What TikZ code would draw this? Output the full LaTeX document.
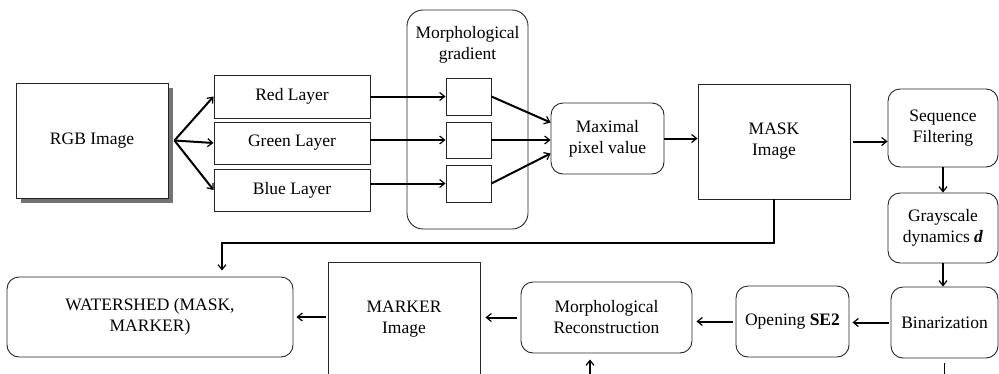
\documentclass[tikz,border=0pt]{standalone}
\usepackage{fontspec}
\setmainfont{Liberation Serif}
\newfontfamily\tnr{Liberation Serif}
\usetikzlibrary{arrows.meta,calc}
\begin{document}
\begin{tikzpicture}[x=1pt,y=-1pt,
  every node/.style={font=\fontsize{17.5}{21}\selectfont, execute at begin node={\tnr\fontsize{17.5}{21}\selectfont}},
  box/.style={draw=black!85, line width=0.9pt, align=center, inner sep=2pt},
  rbox/.style={box, rounded corners=12pt},
  arr/.style={line width=2pt, -{Straight Barb[length=5pt,width=8pt,line width=1.2pt]}},
  thinarr/.style={line width=1.1pt, -{Straight Barb[length=5pt,width=8pt,line width=1.2pt]}},
  thinline/.style={line width=1.1pt}]
\useasboundingbox (0,0) rectangle (999,373);

% shadow of the RGB box
\fill[black!55] (21,88) rectangle (173,203);
% top row
\node[box, fill=white, minimum width=152pt, minimum height=115pt] (rgb) at (92,140.5) {RGB Image};
\node[box, minimum width=156pt, minimum height=43pt] (red) at (292,96.5) {Red Layer};
\node[box, minimum width=156pt, minimum height=42pt] (green) at (292,143) {Green Layer};
\node[box, minimum width=156pt, minimum height=42pt] (blue) at (292,190) {Blue Layer};

\node[box, rounded corners=16pt, minimum width=121pt, minimum height=219pt] (grp) at (467.5,119.5) {};
\node[align=center] (grplab) at (467.5,45) {Morphological\\gradient};
\node[box, minimum width=45pt, minimum height=37pt] (g1) at (468.5,96.5) {};
\node[box, minimum width=45pt, minimum height=36pt] (g2) at (468.5,140) {};
\node[box, minimum width=45pt, minimum height=37pt] (g3) at (468.5,183.5) {};

\node[rbox, minimum width=113pt, minimum height=71pt] (max) at (607.5,138.5) {Maximal\\pixel value};
\node[box, minimum width=152pt, minimum height=115pt] (mask) at (774,141.5) {MASK\\Image};
\node[rbox, minimum width=110pt, minimum height=78pt] (seq) at (943,128) {Sequence\\Filtering};
\node[rbox, minimum width=110pt, minimum height=70pt] (gray) at (943,228) {Grayscale\\dynamics \textbf{\textit{d}}};
\node[rbox, minimum width=107pt, minimum height=71pt] (bin) at (944.5,322.5) {Binarization};

% bottom row
\node[rbox, minimum width=113pt, minimum height=71pt] (open) at (792.5,321.5) {Opening \textbf{SE2}};
\node[rbox, minimum width=171pt, minimum height=71pt] (rec) at (606.5,317.5) {Morphological\\Reconstruction};
\node[box, minimum width=152pt, minimum height=115pt] (marker) at (404,319.5) {MARKER\\Image};
\node[rbox, minimum width=286pt, minimum height=80pt] (ws) at (150,317) {WATERSHED (MASK,\\MARKER)};

% coordinates
\coordinate (fan) at ($(rgb.east)+(6,0)$);
\coordinate (fb) at (222,243);
\coordinate (recin) at (590,376);
\coordinate (binout) at (943,376);

% connectors
\draw[arr] (fan) -- (red.west);
\draw[arr] (fan) -- (green.west);
\draw[arr] (fan) -- (blue.west);
\draw[arr] (g1.west -| red.east) -- (g1.west);
\draw[arr] (g2.west -| green.east) -- (g2.west);
\draw[arr] (g3.west -| blue.east) -- (g3.west);
\draw[arr] (g1.east) -- ($(max.west)+(0,-16)$);
\draw[arr] (g2.east) -- (g2.east -| max.west);
\draw[arr] (g3.east) -- ($(max.west)+(0,15)$);
\draw[arr] (max.east) -- (max.east -| mask.west);
\draw[arr, shorten <=3pt] (mask.east) -- (mask.east -| seq.west);
\draw[arr] (seq.south) -- (gray.north);
\draw[arr] (gray.south) -- (gray.south |- bin.north);
\draw[arr, shorten <=2pt, shorten >=3pt] (bin.west) -- (bin.west -| open.east);
\draw[arr, shorten <=3pt, shorten >=4pt] (open.west) -- (open.west -| rec.east);
\draw[arr, shorten <=4pt, shorten >=5pt] (rec.west) -- (rec.west -| marker.east);
\draw[arr, shorten <=2pt, shorten >=3pt] (ws.east -| marker.west) -- (ws.east);
\draw[thinarr, shorten >=6pt] (mask.south) |- (fb) -- (fb |- ws.north);
\draw[thinarr, shorten >=6pt] (recin) -- (recin |- rec.south);
\draw[thinline, shorten <=5pt] (bin.south) -- (bin.south |- binout);
\end{tikzpicture}
\end{document}
